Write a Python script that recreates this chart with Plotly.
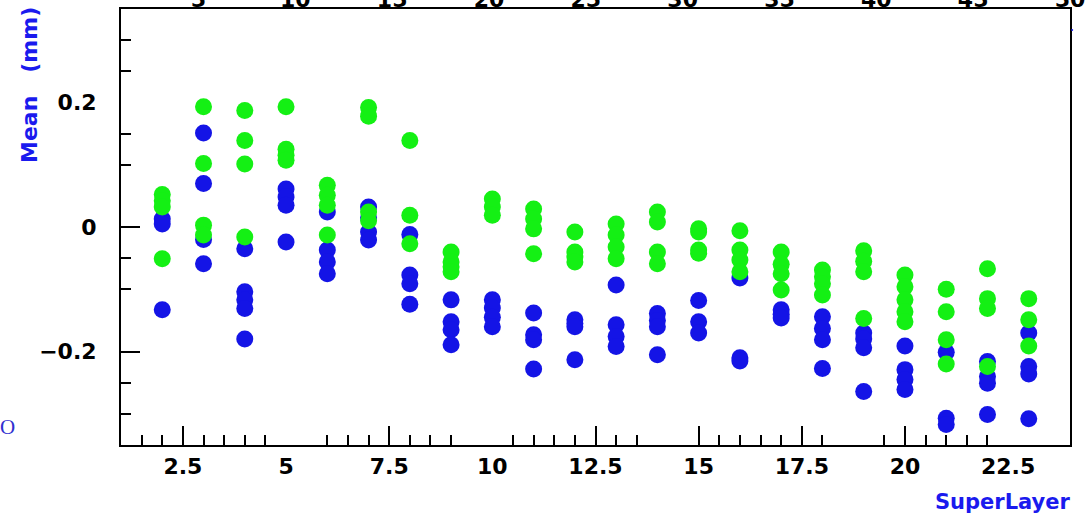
import plotly.graph_objects as go

# ---------------- data ----------------
superlayers = list(range(2, 24))

blue_means = [
    [0.013, 0.005, -0.133],                 # 2
    [0.151, 0.070, -0.020, -0.059],         # 3
    [-0.035, -0.104, -0.117, -0.131, -0.180],  # 4
    [0.061, 0.048, 0.035, -0.024],          # 5
    [0.024, -0.037, -0.056, -0.075],        # 6
    [0.032, 0.015, -0.008, -0.021],         # 7
    [-0.012, -0.077, -0.091, -0.124],       # 8
    [-0.117, -0.152, -0.165, -0.189],       # 9
    [-0.117, -0.130, -0.145, -0.160],       # 10
    [-0.138, -0.173, -0.181, -0.228],       # 11
    [-0.149, -0.155, -0.160, -0.213],       # 12
    [-0.093, -0.157, -0.176, -0.192],       # 13
    [-0.139, -0.150, -0.160, -0.205],       # 14
    [-0.118, -0.152, -0.170],               # 15
    [-0.082, -0.210, -0.215],               # 16
    [-0.133, -0.140, -0.146],               # 17
    [-0.144, -0.163, -0.181, -0.227],       # 18
    [-0.170, -0.180, -0.194, -0.264],       # 19
    [-0.191, -0.229, -0.245, -0.261],       # 20
    [-0.201, -0.307, -0.317],               # 21
    [-0.216, -0.240, -0.251, -0.301],       # 22
    [-0.170, -0.224, -0.236, -0.308],       # 23
]

green_means = [
    [0.052, 0.042, 0.032, -0.051],          # 2
    [0.193, 0.102, 0.003, -0.013],          # 3
    [0.187, 0.139, 0.101, -0.016],          # 4
    [0.193, 0.125, 0.115, 0.107],           # 5
    [0.067, 0.051, 0.035, -0.013],          # 6
    [0.192, 0.178, 0.024, 0.010],           # 7
    [0.139, 0.019, -0.027],                 # 8
    [-0.040, -0.056, -0.064, -0.072],       # 9
    [0.045, 0.032, 0.019],                  # 10
    [0.029, 0.013, -0.003, -0.043],         # 11
    [-0.008, -0.040, -0.048, -0.056],       # 12
    [0.005, -0.013, -0.032, -0.051],        # 13
    [0.024, 0.008, -0.040, -0.059],         # 14
    [-0.003, -0.008, -0.037, -0.042],       # 15
    [-0.006, -0.037, -0.053, -0.072],       # 16
    [-0.040, -0.060, -0.075, -0.101],       # 17
    [-0.069, -0.080, -0.091, -0.109],       # 18
    [-0.038, -0.055, -0.072, -0.147],       # 19
    [-0.077, -0.096, -0.117, -0.136, -0.152],  # 20
    [-0.100, -0.136, -0.181, -0.220],       # 21
    [-0.067, -0.115, -0.131, -0.224],       # 22
    [-0.115, -0.149, -0.191],               # 23
]

x_tick_vals = [2.5, 5, 7.5, 10, 12.5, 15, 17.5, 20, 22.5]
x_tick_text = ["2.5", "5", "7.5", "10", "12.5", "15", "17.5", "20", "22.5"]
top_tick_vals = [5, 10, 15, 20, 25, 30, 35, 40, 45, 50]
top_tick_text = ["5", "10", "15", "20", "25", "30", "35", "40", "45", "50"]
y_tick_vals = [0.2, 0, -0.2]
y_tick_text = ["0.2", "0", "\u22120.2"]

x_long_ticks = [2.5, 7.5, 12.5, 15, 17.5, 20]
x_short_ticks = [1.5, 2, 3, 3.5, 4, 4.5, 6, 6.5, 7, 8, 8.5, 9, 10.5, 11, 11.5,
                 12, 13, 13.5, 15.5, 16, 16.5, 17, 18, 19.5, 20.5, 21, 21.5, 22]
y_long_ticks = [0, -0.2]
y_short_ticks = [0.3, 0.25, 0.15, 0.1, -0.05, -0.1, -0.25, -0.3]

# ---------------- styling ----------------
BLUE = "#1414e6"
GREEN = "#14f014"
TITLE_BLUE = "#1a1aee"
LABEL_FONT = dict(family="DejaVu Sans", size=22, color="black", weight="bold")


def flatten(groups):
    xs, ys = [], []
    for sl, vals in zip(superlayers, groups):
        xs += [sl] * len(vals)
        ys += vals
    return xs, ys


bx, by = flatten(blue_means)
gx, gy = flatten(green_means)

fig = go.Figure()
fig.add_trace(go.Scatter(x=bx, y=by, mode="markers", name="blue",
                         marker=dict(color=BLUE, size=17, line=dict(width=0)),
                         showlegend=False))
fig.add_trace(go.Scatter(x=gx, y=gy, mode="markers", name="green",
                         marker=dict(color=GREEN, size=17, line=dict(width=0)),
                         showlegend=False))
# empty traces that make the extra axes exist
fig.add_trace(go.Scatter(x=[], y=[], xaxis="x3", yaxis="y3", showlegend=False,
                         hoverinfo="skip"))
fig.add_trace(go.Scatter(x=[], y=[], xaxis="x2", yaxis="y", showlegend=False,
                         hoverinfo="skip"))

X_RANGE = [1, 24]
Y_RANGE = [-0.35, 0.35]

fig.update_layout(
    width=1088, height=517,
    margin=dict(l=121, r=18, t=9, b=72, autoexpand=False),
    paper_bgcolor="white", plot_bgcolor="white",
    xaxis=dict(range=X_RANGE, showline=True, linecolor="black", linewidth=2,
               mirror=True, showgrid=False, zeroline=False,
               tickmode="array", tickvals=x_tick_vals, ticktext=x_tick_text,
               ticks="", tickfont=LABEL_FONT, ticklabelstandoff=1),
    xaxis2=dict(range=[1, 50], overlaying="x", side="top", anchor="y",
                showline=False, showgrid=False, zeroline=False,
                tickmode="array", tickvals=top_tick_vals, ticktext=top_tick_text,
                ticks="", tickfont=LABEL_FONT, ticklabelstandoff=-3),
    xaxis3=dict(range=X_RANGE, overlaying="x", side="bottom", anchor="y3",
                showline=False, showgrid=False, zeroline=False,
                showticklabels=False, tickmode="array", tickvals=x_long_ticks,
                ticks="inside", ticklen=19, tickwidth=2, tickcolor="black",
                minor=dict(tickmode="array", tickvals=x_short_ticks,
                           ticks="inside", ticklen=10, tickwidth=2,
                           tickcolor="black", showgrid=False)),
    yaxis=dict(range=Y_RANGE, showline=True, linecolor="black", linewidth=2,
               mirror=True, showgrid=False, zeroline=False,
               tickmode="array", tickvals=y_tick_vals, ticktext=y_tick_text,
               ticks="", tickfont=LABEL_FONT, ticklabelstandoff=18),
    yaxis3=dict(range=Y_RANGE, overlaying="y", side="left", anchor="x3",
                showline=False, showgrid=False, zeroline=False,
                showticklabels=False, tickmode="array", tickvals=y_long_ticks,
                ticks="inside", ticklen=19, tickwidth=2, tickcolor="black",
                minor=dict(tickmode="array", tickvals=y_short_ticks,
                           ticks="inside", ticklen=10, tickwidth=2,
                           tickcolor="black", showgrid=False)),
    annotations=[
        dict(text="Mean\u00a0\u00a0\u00a0(mm)", xref="paper", yref="paper",
             x=-0.0959, y=0.8257, xanchor="center", yanchor="middle",
             textangle=-90, showarrow=False,
             font=dict(family="DejaVu Sans", size=22, color=TITLE_BLUE,
                       weight="bold")),
        dict(text="SuperLayer", xref="paper", yref="paper",
             x=0.9294, y=-0.1307, xanchor="center", yanchor="middle",
             showarrow=False,
             font=dict(family="DejaVu Sans", size=21, color=TITLE_BLUE,
                       weight="bold")),
        dict(text="O", xref="paper", yref="paper",
             x=-0.1196, y=0.0413, xanchor="center", yanchor="middle",
             showarrow=False,
             font=dict(family="Liberation Serif", size=21, color="#3030d0")),
    ],
    shapes=[
        dict(type="circle", xref="paper", yref="paper",
             x0=1.0013, x1=1.0034, y0=0.9495, y1=0.9541,
             fillcolor="#2020ee", line=dict(width=0)),
    ],
)

fig.write_html("out.html",
               config={"displayModeBar": False},
               post_script="document.body.style.margin='0';"
                           "document.body.style.overflow='hidden';")
